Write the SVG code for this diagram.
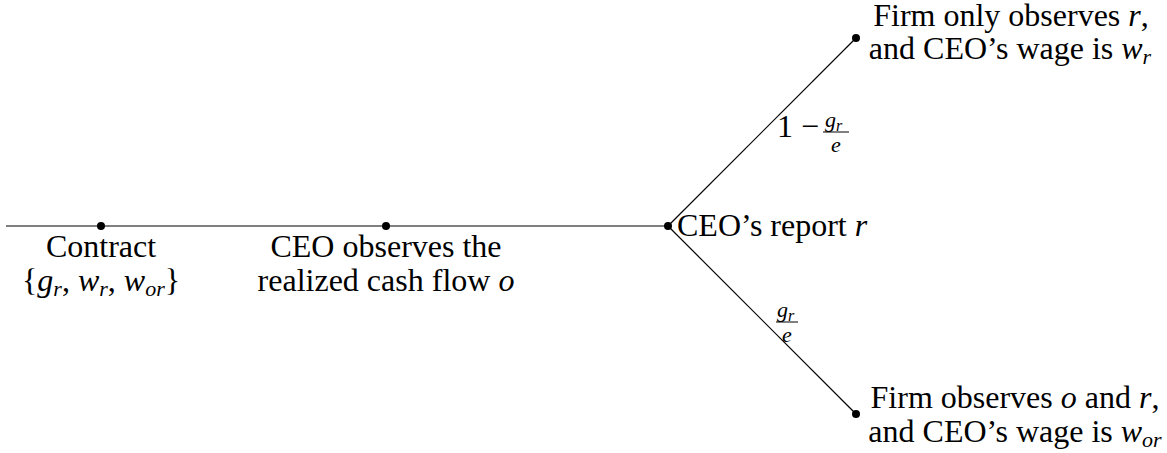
<svg xmlns="http://www.w3.org/2000/svg" width="1167" height="453" viewBox="0 0 1167 453">
<rect width="1167" height="453" fill="#fff"/>
<g id="connectors" stroke="#000" stroke-width="1.2" fill="none">
<line x1="6" y1="226" x2="668" y2="226"/>
<line x1="668" y1="226" x2="856" y2="38"/>
<line x1="668" y1="226" x2="856" y2="414"/>
</g>
<g id="n-contract">
<circle cx="101" cy="226" r="4" fill="#000"/>
<text x="101" y="257" text-anchor="middle" font-family="Liberation Serif" font-size="32" style="font-family:'Liberation Serif',serif !important">Contract</text>
<text x="101" y="291" text-anchor="middle" font-family="Liberation Serif" font-size="32" style="font-family:'Liberation Serif',serif !important">{<tspan font-style="italic">g</tspan><tspan font-style="italic" font-size="22" dy="5">r</tspan><tspan dy="-5">, </tspan><tspan font-style="italic">w</tspan><tspan font-style="italic" font-size="22" dy="5">r</tspan><tspan dy="-5">, </tspan><tspan font-style="italic">w</tspan><tspan font-style="italic" font-size="22" dy="5">or</tspan><tspan dy="-5">}</tspan></text>
</g>
<g id="n-observe">
<circle cx="386" cy="226" r="4" fill="#000"/>
<text x="386" y="257" text-anchor="middle" font-family="Liberation Serif" font-size="32" style="font-family:'Liberation Serif',serif !important">CEO observes the</text>
<text x="386" y="291" text-anchor="middle" font-family="Liberation Serif" font-size="32" style="font-family:'Liberation Serif',serif !important">realized cash flow <tspan font-style="italic">o</tspan></text>
</g>
<g id="n-report">
<circle cx="668" cy="226" r="4" fill="#000"/>
<text x="677" y="236" font-family="Liberation Serif" font-size="32" style="font-family:'Liberation Serif',serif !important">CEO&#8217;s report <tspan font-style="italic">r</tspan></text>
</g>
<g id="n-top">
<circle cx="856" cy="38" r="4" fill="#000"/>
<text x="1011" y="26" text-anchor="middle" font-family="Liberation Serif" font-size="32" style="font-family:'Liberation Serif',serif !important">Firm only observes <tspan font-style="italic">r</tspan>,</text>
<text x="1010" y="59" text-anchor="middle" font-family="Liberation Serif" font-size="32" style="font-family:'Liberation Serif',serif !important">and CEO&#8217;s wage is <tspan font-style="italic">w</tspan><tspan font-style="italic" font-size="22" dy="5">r</tspan></text>
</g>
<g id="n-bottom">
<circle cx="856" cy="414" r="4" fill="#000"/>
<text x="1015" y="408" text-anchor="middle" font-family="Liberation Serif" font-size="32" style="font-family:'Liberation Serif',serif !important">Firm observes <tspan font-style="italic">o</tspan> and <tspan font-style="italic">r</tspan>,</text>
<text x="1015" y="442" text-anchor="middle" font-family="Liberation Serif" font-size="32" style="font-family:'Liberation Serif',serif !important">and CEO&#8217;s wage is <tspan font-style="italic">w</tspan><tspan font-style="italic" font-size="22" dy="5">or</tspan></text>
</g>
<g id="label-top">
<text x="777" y="137" font-family="Liberation Serif" font-size="32" style="font-family:'Liberation Serif',serif !important">1 &#8722;</text>
<text x="825" y="127" font-family="Liberation Serif" font-size="22" font-style="italic" style="font-family:'Liberation Serif',serif !important">g<tspan font-size="16" dy="4">r</tspan></text>
<line x1="823" y1="132" x2="849" y2="132" stroke="#000" stroke-width="1"/>
<text x="836" y="152" font-family="Liberation Serif" font-size="22" font-style="italic" text-anchor="middle" style="font-family:'Liberation Serif',serif !important">e</text>
</g>
<g id="label-bottom">
<text x="777" y="317" font-family="Liberation Serif" font-size="22" font-style="italic" style="font-family:'Liberation Serif',serif !important">g<tspan font-size="16" dy="4">r</tspan></text>
<line x1="776" y1="322" x2="798" y2="322" stroke="#000" stroke-width="1"/>
<text x="787" y="342" font-family="Liberation Serif" font-size="22" font-style="italic" text-anchor="middle" style="font-family:'Liberation Serif',serif !important">e</text>
</g>
</svg>
